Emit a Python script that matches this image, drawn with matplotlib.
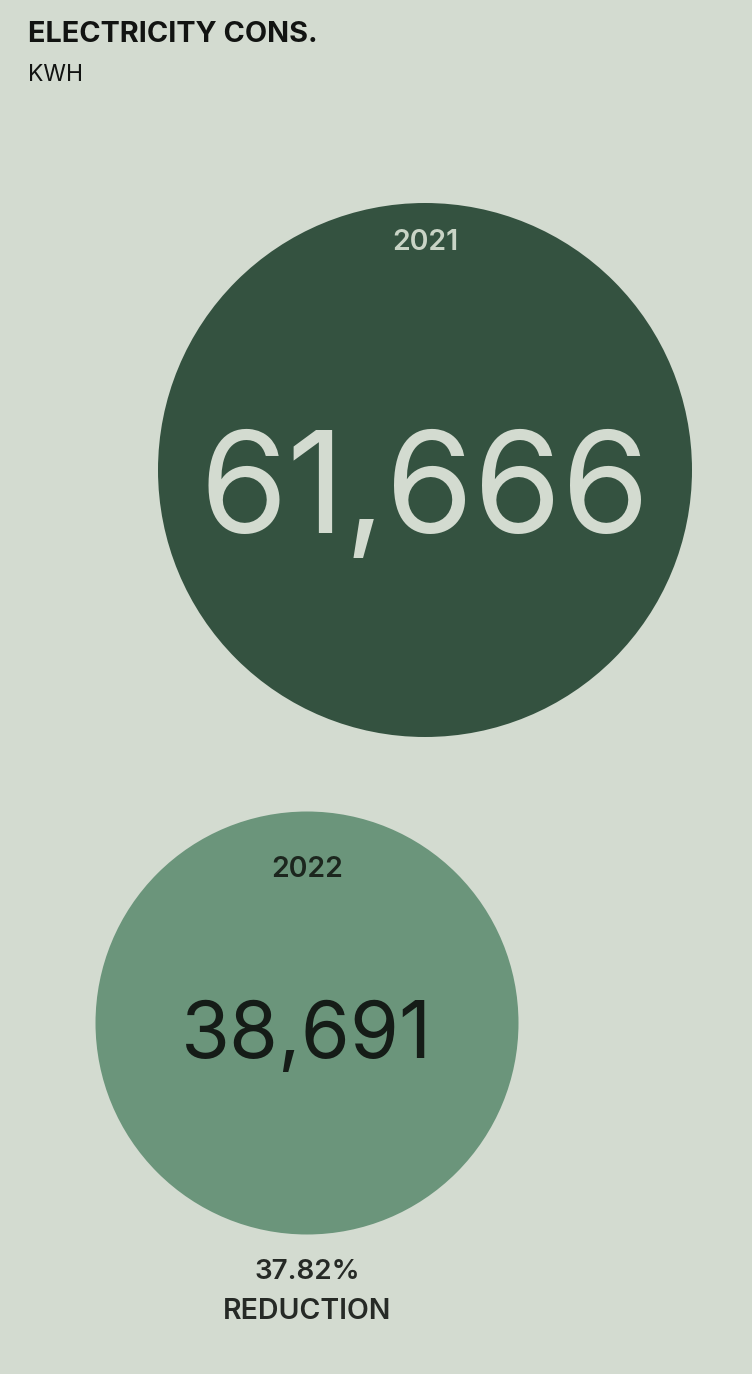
"""
Electricity consumption: two area-scaled circles, 2021 vs 2022
"""

import numpy as np
import matplotlib as mpl
import matplotlib.pyplot as plt
from matplotlib.patches import Circle

years = ['2021', '2022']
consumption_kwh = [61666, 38691]
reduction_pct = 37.82

title = 'ELECTRICITY CONS.'
unit = 'KWH'

bg = '#d3dbd0'
circle_colors = ['#345240', '#6b957b']
year_colors = ['#c9d4c6', '#1c261e']
value_colors = ['#d3dbd0', '#151c17']

mpl.rcParams['font.family'] = ['Inter', 'DejaVu Sans']

W, H = 752, 1374
fig = plt.figure(figsize=(W / 100, H / 100), dpi=100, facecolor=bg)
ax = fig.add_axes([0, 0, 1, 1])
ax.set_xlim(0, W)
ax.set_ylim(H, 0)
ax.set_aspect('equal')
ax.axis('off')

# radius ~ sqrt(value) so circle area tracks consumption
k = 267 / np.sqrt(max(consumption_kwh))
radii = [k * np.sqrt(v) for v in consumption_kwh]

centers = [(425, 470), (307, 1023)]
year_base = [250, 877]
value_base = [533, 1058]
value_size = [102, 57]

for i in range(len(years)):
    cx, cy = centers[i]
    ax.add_patch(Circle((cx, cy), radii[i], color=circle_colors[i], lw=0))
    ax.text(cx, year_base[i], years[i], ha='center', va='baseline',
            fontsize=20.5, fontweight='semibold', color=year_colors[i])
    ax.text(cx, value_base[i], '{:,}'.format(consumption_kwh[i]),
            ha='center', va='baseline', fontsize=value_size[i],
            fontweight='normal', color=value_colors[i])

ax.text(28, 42, title, ha='left', va='baseline', fontsize=20.8,
        fontweight='bold', color='#121412')
ax.text(28, 81, unit, ha='left', va='baseline', fontsize=16.5,
        color='#121412')

cx2 = centers[1][0]
ax.text(cx2, 1279, '{:.2f}%'.format(reduction_pct), ha='center',
        va='baseline', fontsize=20, fontweight='semibold', color='#262a26')
ax.text(cx2, 1319, 'REDUCTION', ha='center', va='baseline', fontsize=20.5,
        fontweight='semibold', color='#262a26')

fig.savefig('out.png', dpi=100, facecolor=bg)
